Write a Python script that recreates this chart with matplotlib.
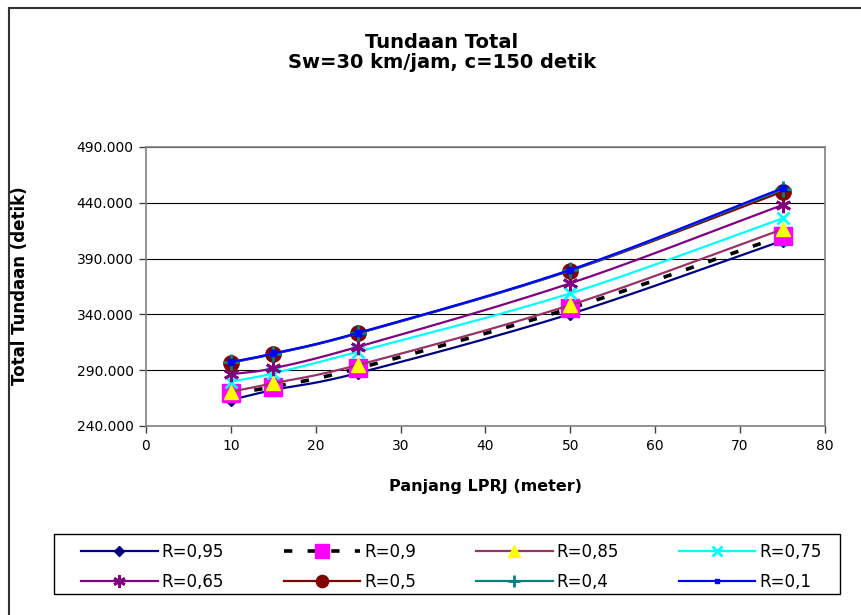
import numpy as np
import matplotlib
matplotlib.use("Agg")
import matplotlib.pyplot as plt
from matplotlib.lines import Line2D
from matplotlib.patches import Rectangle
from matplotlib.ticker import FuncFormatter

plt.rcParams['font.family'] = ['DejaVu Sans']
plt.rcParams['lines.scale_dashes'] = False

# ---------------- data ----------------
lprj = [10, 15, 25, 50, 75]
r_095 = [263.3, 272.3, 287.5, 340.4, 406.0]
r_090 = [269.3, 275.2, 291.7, 345.5, 410.3]
r_085 = [270.7, 278.3, 294.7, 348.4, 416.3]
r_075 = [279.7, 287.2, 306.6, 358.9, 426.0]
r_065 = [286.3, 291.7, 311.0, 367.9, 438.0]
r_050 = [296.7, 304.5, 323.0, 379.2, 450.0]
r_040 = [297.0, 304.7, 323.2, 379.5, 452.0]
r_010 = [297.3, 305.0, 323.5, 380.0, 453.0]

labels = ["R=0,95", "R=0,9", "R=0,85", "R=0,75", "R=0,65", "R=0,5", "R=0,4", "R=0,1"]
series = [r_095, r_090, r_085, r_075, r_065, r_050, r_040, r_010]

yticks = [240, 290, 340, 390, 440, 490]
xticks = [0, 10, 20, 30, 40, 50, 60, 70, 80]

# ---------------- styles ----------------
styles = [
    dict(lc="#000080", ls="-", lw=1.6, m="D", ms=6.5, mc="#000080", mew=1),
    dict(lc="#000000", ls=(0, (6, 11)), lw=2.6, m="s", ms=13, mc="#FF00FF", mew=1),
    dict(lc="#993366", ls="-", lw=1.6, m="^", ms=10, mc="#FFFF00", mew=1),
    dict(lc="#00FFFF", ls="-", lw=1.6, m="x", ms=9, mc="#00FFFF", mew=2),
    dict(lc="#800080", ls="-", lw=1.6, m=(6, 2, 0), ms=11, mc="#800080", mew=2),
    dict(lc="#800000", ls="-", lw=1.6, m="o", ms=11, mc="#800000", mew=1),
    dict(lc="#008080", ls="-", lw=1.6, m="+", ms=11, mc="#008080", mew=2),
    dict(lc="#0000FF", ls="-", lw=1.6, m="s", ms=4, mc="#0000FF", mew=1),
]


def smooth(xs, ys, n=40):
    """Catmull-Rom smoothing (like Excel 'smoothed line') for drawing."""
    P = np.column_stack([np.asarray(xs, float), np.asarray(ys, float)])
    P = np.vstack([2 * P[0] - P[1], P, 2 * P[-1] - P[-2]])
    out = []
    t = np.linspace(0, 1, n, endpoint=False)[:, None]
    for i in range(1, len(P) - 2):
        p0, p1, p2, p3 = P[i - 1], P[i], P[i + 1], P[i + 2]
        seg = 0.5 * ((2 * p1) + (-p0 + p2) * t
                     + (2 * p0 - 5 * p1 + 4 * p2 - p3) * t ** 2
                     + (-p0 + 3 * p1 - 3 * p2 + p3) * t ** 3)
        out.append(seg)
    out.append(P[-2][None, :])
    S = np.vstack(out)
    return S[:, 0], S[:, 1]


W, H = 861, 615
fig = plt.figure(figsize=(W / 100, H / 100), dpi=100)
ax = fig.add_axes([146 / W, 1 - 426 / H, (825 - 146) / W, (426 - 147) / H])

handles = []
for i, (ys, st, lab) in enumerate(zip(series, styles, labels)):
    sx, sy = smooth(lprj, ys)
    ax.plot(sx, sy, color=st["lc"], ls=st["ls"], lw=st["lw"], zorder=3 + i,
            solid_capstyle="butt", dash_capstyle="butt")
    ax.plot(lprj, ys, ls="none", marker=st["m"], ms=st["ms"], mfc=st["mc"],
            mec=st["mc"], mew=st["mew"], zorder=3 + i)
    handles.append(Line2D([], [], color=st["lc"], ls=st["ls"], lw=st["lw"],
                          marker=st["m"], ms=st["ms"], mfc=st["mc"],
                          mec=st["mc"], mew=st["mew"], label=lab,
                          dash_capstyle="butt"))

ax.set_xlim(0, 80)
ax.set_ylim(240, 490)
ax.set_xticks(xticks)
ax.set_yticks(yticks)
ax.yaxis.set_major_formatter(FuncFormatter(lambda v, p: f"{v:.3f}"))
ax.tick_params(axis="both", direction="out", length=5, width=1,
               color="#404040", labelsize=10, pad=4)
ax.yaxis.grid(True, color="black", lw=0.8)
ax.set_axisbelow(True)
for s in ax.spines.values():
    s.set_color("#808080")
    s.set_linewidth(1.2)

# texts
fig.text(442 / W, 1 - 42 / H, "Tundaan Total", ha="center", va="center",
         fontsize=14, fontweight="bold")
fig.text(442 / W, 1 - 63 / H, "Sw=30 km/jam, c=150 detik", ha="center",
         va="center", fontsize=14, fontweight="bold")
fig.text(485 / W, 1 - 487 / H, "Panjang LPRJ (meter)", ha="center",
         va="center", fontsize=11.5, fontweight="bold")
fig.text(20 / W, 1 - 286 / H, "Total Tundaan (detik)", ha="center",
         va="center", fontsize=12, fontweight="bold", rotation=90)

# legend frame (drawn separately so the entries can sit with wider side margins)
fig.add_artist(Rectangle((54 / W, 1 - 594 / H), (840 - 54) / W, 60 / H,
                         transform=fig.transFigure, facecolor="white",
                         edgecolor="black", lw=1.0, zorder=1))

# legend: row-major order (matplotlib fills columns first)
order = [0, 4, 1, 5, 2, 6, 3, 7]
leg = fig.legend(handles=[handles[k] for k in order], ncol=4, loc="center",
                 bbox_to_anchor=(71 / W, 1 - 597 / H, (832 - 71) / W, 60 / H),
                 bbox_transform=fig.transFigure, mode="expand",
                 borderaxespad=0, fontsize=12, handlelength=4.6,
                 handletextpad=0.25, borderpad=0.6, labelspacing=0.75,
                 frameon=False, columnspacing=1.0, markerscale=0.8)
leg.set_zorder(2)

# outer chart border (left and top)
fig.add_artist(Line2D([9 / W, 9 / W], [0, 1 - 8 / H], transform=fig.transFigure,
                      color="#333333", lw=1.5))
fig.add_artist(Line2D([9 / W, 1], [1 - 8 / H, 1 - 8 / H], transform=fig.transFigure,
                      color="#333333", lw=1.5))

fig.savefig("out.png", dpi=100)
